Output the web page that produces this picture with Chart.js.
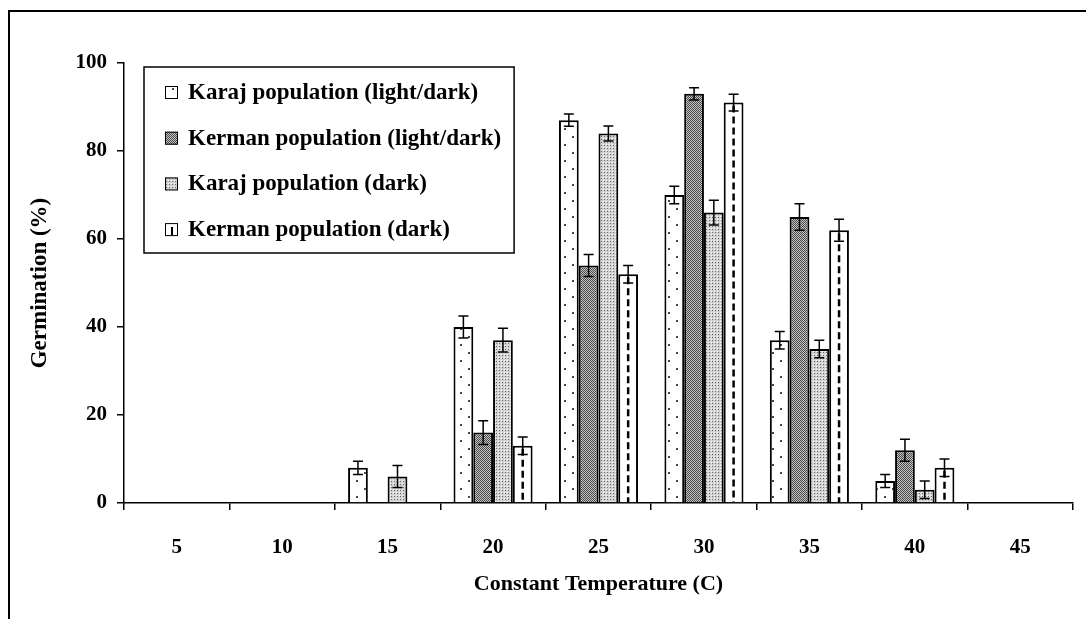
<!DOCTYPE html>
<html>
<head>
<meta charset="utf-8">
<script src="https://cdn.jsdelivr.net/npm/chart.js@4.4.1/dist/chart.umd.min.js"></script>
<style>
  html, body { margin: 0; padding: 0; background: #fff; }
  canvas { display: block; }
</style>
</head>
<body>
<canvas id="germinationChart" width="1086" height="619"></canvas>
<script>
// Data
const temperatures = ['5', '10', '15', '20', '25', '30', '35', '40', '45'];
const karajLightDark = [0, 0, 8, 40, 87, 70, 37, 5, 0];
const kermanLightDark = [0, 0, 0, 16, 54, 93, 65, 12, 0];
const karajDark = [0, 0, 6, 37, 84, 66, 35, 3, 0];
const kermanDark = [0, 0, 0, 13, 52, 91, 62, 8, 0];
// error bar half-lengths
const karajLightDarkErr = [0, 0, 1.5, 2.5, 1.4, 2, 2, 1.5, 0];
const kermanLightDarkErr = [0, 0, 0, 2.7, 2.5, 1.4, 3, 2.5, 0];
const karajDarkErr = [0, 0, 2.5, 2.7, 1.7, 2.8, 2, 2, 0];
const kermanDarkErr = [0, 0, 0, 2, 2, 1.9, 2.5, 2, 0];
const yTicks = [0, 20, 40, 60, 80, 100];

const serif = '"Liberation Serif", "Times New Roman", serif';
const canvas = document.getElementById('germinationChart');
const ctx = canvas.getContext('2d');

// Small helper to build fill patterns
function makePattern(w, h, paint) {
    const c = document.createElement('canvas');
    c.width = w;
    c.height = h;
    paint(c.getContext('2d'), w, h);
    return ctx.createPattern(c, 'repeat');
}

const sparseDots = makePattern(16, 16, (g, w, h) => {
    g.fillStyle = '#fff';
    g.fillRect(0, 0, w, h);
    g.fillStyle = '#444';
    g.fillRect(4, 0, 2, 2);
    g.fillRect(12, 8, 2, 2);
});
const darkCheck = makePattern(2, 2, (g, w, h) => {
    g.fillStyle = '#c4c4c4';
    g.fillRect(0, 0, w, h);
    g.fillStyle = '#4a4a4a';
    g.fillRect(0, 0, 1, 1);
    g.fillRect(1, 1, 1, 1);
});
const lightGrid = makePattern(3, 3, (g, w, h) => {
    g.fillStyle = '#d2d2d2';
    g.fillRect(0, 0, w, h);
    g.fillStyle = '#6a6a6a';
    g.fillRect(1, 1, 1, 1);
    g.fillStyle = '#fff';
    g.fillRect(0, 0, 1, 1);
});

// Frame around the whole figure (cropped at right/bottom like the original)
const framePlugin = {
    id: 'frame',
    beforeDraw(chart) {
        const c = chart.ctx;
        c.save();
        c.fillStyle = '#fff';
        c.fillRect(0, 0, chart.width, chart.height);
        c.strokeStyle = '#000';
        c.lineWidth = 2;
        c.beginPath();
        c.moveTo(9, chart.height);
        c.lineTo(9, 11);
        c.lineTo(chart.width, 11);
        c.stroke();
        c.restore();
    }
};

// Vertical dashed line inside the Kerman (dark) bars
const dashPlugin = {
    id: 'dashes',
    afterDatasetsDraw(chart) {
        const c = chart.ctx;
        const meta = chart.getDatasetMeta(3);
        c.save();
        c.strokeStyle = '#000';
        c.lineWidth = 2.5;
        c.setLineDash([7, 4]);
        meta.data.forEach(bar => {
            if (bar.base - bar.y < 3) return;
            c.beginPath();
            c.moveTo(bar.x, bar.y + 3);
            c.lineTo(bar.x, bar.base);
            c.stroke();
        });
        c.restore();
    }
};

// Error bars
const errorBarPlugin = {
    id: 'errorBars',
    afterDatasetsDraw(chart) {
        const c = chart.ctx;
        const y = chart.scales.y;
        c.save();
        c.strokeStyle = '#000';
        c.lineWidth = 1.5;
        chart.data.datasets.forEach((ds, i) => {
            const meta = chart.getDatasetMeta(i);
            meta.data.forEach((bar, j) => {
                const err = ds.errors[j];
                if (!err) return;
                const top = y.getPixelForValue(ds.data[j] + err);
                const bot = y.getPixelForValue(ds.data[j] - err);
                c.beginPath();
                c.moveTo(bar.x, top);
                c.lineTo(bar.x, bot);
                c.moveTo(bar.x - 5, top);
                c.lineTo(bar.x + 5, top);
                c.moveTo(bar.x - 5, bot);
                c.lineTo(bar.x + 5, bot);
                c.stroke();
            });
        });
        c.restore();
    }
};

// Boxed legend inside the plot area
const boxLegendPlugin = {
    id: 'boxLegend',
    afterDraw(chart) {
        const c = chart.ctx;
        const area = chart.chartArea;
        const left = area.left + 20;
        const top = area.top + 4;
        const rowGap = 45.7;
        c.save();
        c.font = 'bold 23px ' + serif;
        const labels = chart.data.datasets.map(ds => ds.label);
        const maxW = Math.max(...labels.map(t => c.measureText(t).width));
        const boxW = 21 + 14 + 9 + maxW + 13;
        const boxH = 186;
        c.fillStyle = '#fff';
        c.fillRect(left, top, boxW, boxH);
        c.strokeStyle = '#000';
        c.lineWidth = 1.5;
        c.strokeRect(left, top, boxW, boxH);
        chart.data.datasets.forEach((ds, i) => {
            const cy = top + 26 + i * rowGap;
            const sx = left + 21;
            c.fillStyle = ds.backgroundColor;
            c.fillRect(sx, cy - 7, 13, 13);
            c.lineWidth = 1;
            c.strokeStyle = '#000';
            c.strokeRect(sx + 0.5, cy - 6.5, 12, 12);
            if (i === 3) {
                c.lineWidth = 2;
                c.beginPath();
                c.moveTo(sx + 7, cy - 3);
                c.lineTo(sx + 7, cy + 5);
                c.stroke();
            }
            c.fillStyle = '#000';
            c.textBaseline = 'middle';
            c.fillText(ds.label, sx + 23, cy);
        });
        c.restore();
    }
};

const barStyle = {
    borderColor: '#000',
    borderWidth: 2,
    categoryPercentage: 0.75,
    barPercentage: 1.0
};

new Chart(ctx, {
    type: 'bar',
    data: {
        labels: temperatures,
        datasets: [
            Object.assign({ label: 'Karaj population (light/dark)', data: karajLightDark, errors: karajLightDarkErr, backgroundColor: sparseDots }, barStyle),
            Object.assign({ label: 'Kerman population (light/dark)', data: kermanLightDark, errors: kermanLightDarkErr, backgroundColor: darkCheck }, barStyle),
            Object.assign({ label: 'Karaj population (dark)', data: karajDark, errors: karajDarkErr, backgroundColor: lightGrid }, barStyle),
            Object.assign({ label: 'Kerman population (dark)', data: kermanDark, errors: kermanDarkErr, backgroundColor: '#fff' }, barStyle)
        ]
    },
    options: {
        responsive: false,
        animation: false,
        layout: { padding: { top: 63, right: 13, left: 0, bottom: 0 } },
        plugins: {
            legend: { display: false },
            tooltip: { enabled: false }
        },
        scales: {
            x: {
                offset: true,
                grid: { display: true, drawOnChartArea: false, offset: true, tickLength: 7, color: '#000', lineWidth: 1.5 },
                border: { color: '#000', width: 1.5 },
                ticks: { color: '#000', padding: 25, font: { family: serif, weight: 'bold', size: 21 } },
                title: { display: true, text: 'Constant Temperature (C)', color: '#000', padding: { top: 0, bottom: 21 }, font: { family: serif, weight: 'bold', size: 22 } },
                afterFit(scale) { scale.height = 116; }
            },
            y: {
                min: 0,
                max: 100,
                afterBuildTicks(scale) { scale.ticks = yTicks.map(v => ({ value: v })); },
                grid: { display: true, drawOnChartArea: false, tickLength: 7, color: '#000', lineWidth: 1.5 },
                border: { color: '#000', width: 1.5 },
                ticks: { color: '#000', padding: 10, font: { family: serif, weight: 'bold', size: 21 } },
                title: { display: true, text: 'Germination (%)', color: '#000', padding: { top: 26, bottom: 0 }, font: { family: serif, weight: 'bold', size: 23 } },
                afterFit(scale) { scale.width = 124; }
            }
        }
    },
    plugins: [framePlugin, dashPlugin, errorBarPlugin, boxLegendPlugin]
});
</script>
</body>
</html>
